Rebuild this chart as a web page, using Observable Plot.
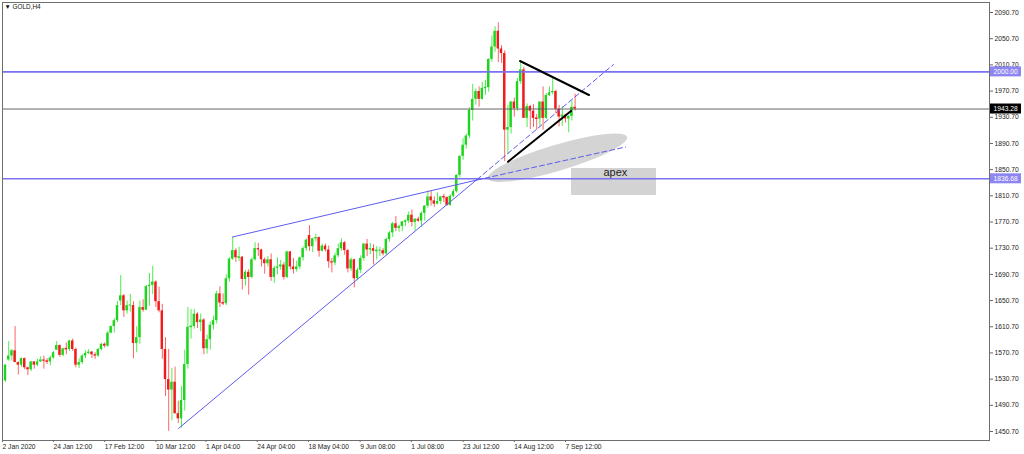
<!DOCTYPE html>
<html><head><meta charset="utf-8">
<script src="https://cdn.jsdelivr.net/npm/d3@7"></script>
<script src="https://cdn.jsdelivr.net/npm/@observablehq/plot@0.6"></script>
<style>
html,body{margin:0;padding:0;background:#fff;}
#chart svg{display:block;}
</style></head><body><div id="chart"></div>
<script>
// ---- Daily OHLC of GOLD (trading day index 0 = 2 Jan 2020) ----
const opens = [1517,1528,1560,1566,1574,1556,1552,1562,1548,1545,1557,1552,1557,1560,1558,1557,1563,1575,1582,1567,
1577,1576,1589,1576,1552,1556,1566,1570,1572,1568,1566,1576,1584,1581,1601,1611,1620,1650,1658,1635,
1643,1643,1585,1594,1640,1636,1672,1674,1679,1649,1635,1576,1530,1514,1526,1478,1470,1498,1553,1610,
1611,1630,1617,1621,1577,1591,1613,1620,1661,1647,1646,1684,1714,1727,1716,1717,1683,1694,1686,1713,
1730,1728,1713,1707,1713,1686,1700,1702,1705,1686,1725,1702,1698,1702,1716,1730,1750,1733,1745,1747,
1726,1734,1728,1710,1708,1719,1730,1739,1727,1699,1713,1684,1697,1715,1737,1728,1730,1726,1727,1727,
1722,1744,1754,1768,1761,1764,1771,1772,1781,1770,1775,1772,1784,1795,1809,1803,1798,1802,1809,1808,
1796,1810,1817,1842,1871,1888,1902,1941,1958,1970,1958,1975,1976,2019,2038,2062,2035,2028,1911,1915,
1954,1944,1985,2003,1929,1947,1940,1929,1928,1954,1929,1964,1968,1970,1943,1931,1934,1928,1932,1946];
const highs = [1529,1553,1588,1576,1611,1557,1563,1563,1549,1558,1557,1561,1565,1566,1562,1566,1573,1588,1583,1578,
1586,1590,1592,1578,1562,1568,1574,1576,1573,1571,1578,1585,1586,1604,1612,1623,1649,1689,1660,1650,
1660,1649,1611,1650,1652,1674,1692,1703,1681,1671,1645,1594,1576,1547,1549,1497,1519,1575,1640,1637,
1637,1632,1630,1623,1598,1618,1627,1665,1672,1661,1690,1716,1747,1730,1732,1718,1697,1698,1716,1739,
1738,1729,1716,1718,1722,1703,1716,1712,1709,1726,1726,1715,1711,1717,1733,1745,1765,1746,1752,1748,
1737,1737,1734,1715,1723,1737,1745,1741,1729,1716,1714,1700,1719,1738,1744,1738,1736,1733,1732,1730,
1746,1756,1770,1779,1766,1771,1774,1786,1789,1776,1778,1786,1796,1818,1818,1809,1815,1810,1813,1809,
1812,1820,1843,1872,1898,1905,1945,1981,1974,1977,1984,1987,2020,2055,2069,2075,2040,2032,1949,1955,
1960,1990,2015,2007,1951,1949,1950,1935,1954,1977,1967,1977,1992,1972,1949,1947,1935,1933,1956,1966];
const lows = [1517,1526,1558,1558,1556,1537,1549,1545,1536,1542,1546,1550,1556,1546,1553,1551,1561,1574,1564,1565,
1568,1573,1573,1548,1547,1553,1562,1568,1562,1561,1564,1574,1578,1579,1600,1601,1617,1643,1625,1630,
1633,1562,1571,1584,1633,1636,1642,1660,1640,1632,1561,1504,1451,1467,1477,1463,1456,1482,1546,1592,
1607,1608,1603,1568,1569,1575,1606,1615,1640,1643,1643,1679,1712,1709,1710,1667,1673,1659,1684,1711,
1718,1702,1691,1702,1680,1677,1690,1697,1682,1684,1697,1691,1694,1698,1711,1726,1726,1724,1740,1717,
1725,1725,1700,1693,1704,1716,1726,1720,1693,1695,1670,1681,1692,1711,1718,1721,1705,1713,1718,1719,
1720,1740,1747,1756,1755,1756,1764,1768,1763,1757,1770,1763,1772,1792,1795,1793,1797,1797,1800,1795,
1795,1808,1815,1838,1865,1882,1898,1925,1949,1946,1957,1964,1969,2015,2030,2014,2013,1863,1874,1905,
1931,1940,1981,1929,1915,1912,1915,1911,1916,1911,1927,1962,1965,1936,1916,1917,1922,1907,1925,1940];
const closes = [1528,1552,1566,1574,1556,1552,1562,1548,1545,1557,1552,1557,1560,1558,1557,1563,1571,1582,1567,1577,
1576,1589,1576,1552,1556,1566,1570,1572,1568,1566,1576,1584,1581,1601,1611,1620,1643,1658,1635,1643,
1643,1585,1594,1640,1636,1672,1674,1679,1649,1635,1576,1530,1514,1526,1478,1470,1498,1553,1610,1611,
1630,1617,1621,1577,1591,1613,1620,1661,1647,1646,1684,1714,1727,1716,1717,1683,1694,1686,1713,1730,
1728,1713,1707,1713,1686,1700,1702,1705,1686,1725,1702,1698,1702,1716,1730,1743,1733,1745,1747,1726,
1734,1728,1710,1708,1719,1730,1739,1727,1699,1713,1684,1697,1715,1737,1728,1730,1726,1727,1727,1722,
1744,1754,1768,1761,1764,1771,1772,1781,1770,1775,1772,1784,1795,1809,1803,1798,1802,1809,1808,1796,
1810,1817,1842,1871,1888,1902,1941,1958,1970,1958,1975,1976,2019,2038,2062,2035,2028,1911,1915,1954,
1944,1985,2003,1929,1947,1940,1929,1928,1954,1929,1964,1968,1970,1943,1931,1934,1928,1932,1946,1943.28];

// ---- Axis ticks ----
const tickBars = [0.56, 16.5, 32.5, 48.5, 64.17, 80.17, 96.17, 112.33, 128.33, 144.5, 160.5, 176.5];
const tickLabels = ["2 Jan 2020","24 Jan 12:00","17 Feb 12:00","10 Mar 12:00","1 Apr 04:00","24 Apr 04:00",
  "18 May 04:00","9 Jun 08:00","1 Jul 08:00","23 Jul 12:00","14 Aug 12:00","7 Sep 12:00"];
const priceTicks = [1450.7,1490.7,1530.7,1570.7,1610.7,1650.7,1690.7,1730.7,1770.7,1810.7,1850.7,1890.7,1930.7,1970.7,2010.7,2050.7,2090.7];

// ---- Objects drawn on the chart (bar index, price) ----
const hLevels = [2000.00, 1836.68];
const bidPrice = 1943.28;
const trendLowerSolid = [[55.56,1455.3],[148.84,1835.6]];
const trendLowerDashed = [[148.84,1835.6],[191.5,2011.3]];
const trendUpperSolid = [[72.44,1747.8],[148.84,1834.9]];
const trendUpperDashed = [[148.84,1834.9],[195.25,1885.3]];
const triUpper = [[162.28,2016.6],[183.84,1964.7]];
const triLower = [[158.53,1862.7],[178.22,1940.3]];
const ellipseEnds = [[152.44,1836.4],[195.88,1899.8]];
const apexBox = {x1:178.38, x2:204.94, y1:1811.2, y2:1852.4};
const apexText = {x:192.1, y:1846.3, text:"apex"};
const symbolTitle = "▼ GOLD,H4";

// ---- build ----
const candles = closes.map((c,i)=>({i, o:opens[i], h:highs[i], l:lows[i], c, up: c >= opens[i]}));
const up = candles.filter(d=>d.up), dn = candles.filter(d=>!d.up);
const bodyLo = d => Math.min(d.o,d.c) - (Math.abs(d.o-d.c) < 1.2 ? 0.7 : 0);
const bodyHi = d => Math.max(d.o,d.c) + (Math.abs(d.o-d.c) < 1.2 ? 0.7 : 0);
const labelOf = new Map(tickBars.map((b,i)=>[b,tickLabels[i]]));
const toPts = arr => arr.map(([x,y])=>({x,y}));
const FONT = "Liberation Sans, Arial, sans-serif";
const ns = "http://www.w3.org/2000/svg";

function findScales(args){ return args.find(a => a && typeof a.x === "function" && typeof a.y === "function"); }

const ellipseMark = (...args) => {
  const s = findScales(args);
  const g = document.createElementNS(ns,"g");
  const x1 = s.x(ellipseEnds[0][0]), y1 = s.y(ellipseEnds[0][1]);
  const x2 = s.x(ellipseEnds[1][0]), y2 = s.y(ellipseEnds[1][1]);
  const cx=(x1+x2)/2, cy=(y1+y2)/2, a=Math.hypot(x2-x1,y2-y1)/2;
  const ang = Math.atan2(y2-y1,x2-x1)*180/Math.PI;
  const e = document.createElementNS(ns,"ellipse");
  e.setAttribute("cx",cx); e.setAttribute("cy",cy);
  e.setAttribute("rx",a); e.setAttribute("ry",a*0.18);
  e.setAttribute("transform",`rotate(${ang} ${cx} ${cy})`);
  e.setAttribute("fill","#d4d4d4");
  g.appendChild(e);
  return g;
};

const priceBoxes = (...args) => {
  const s = findScales(args);
  const g = document.createElementNS(ns,"g");
  const items = [...hLevels.map(v=>({v,bg:"#8d85f0"})), {v:bidPrice,bg:"#000"}];
  for (const it of items) {
    const y = s.y(it.v);
    const r = document.createElementNS(ns,"rect");
    r.setAttribute("x",990); r.setAttribute("y",y-5); r.setAttribute("width",31); r.setAttribute("height",10);
    r.setAttribute("fill",it.bg);
    g.appendChild(r);
    const t = document.createElementNS(ns,"text");
    t.setAttribute("x",993.5); t.setAttribute("y",y+2.4);
    t.setAttribute("text-anchor","start");
    t.setAttribute("fill","#fff"); t.setAttribute("font-size","6.7px"); t.setAttribute("font-family",FONT);
    t.textContent = d3.format(".2f")(it.v);
    g.appendChild(t);
  }
  return g;
};

const plot = Plot.plot({
  width: 1024, height: 454,
  marginLeft: 2, marginRight: 35, marginTop: 2, marginBottom: 14,
  style: {fontFamily: FONT, fontSize: "6.7px", background: "#fff", color: "#222"},
  x: {type: "linear", domain: [0.5625, 309.0], axis: null},
  y: {type: "linear", domain: [1436.97, 2105.98], axis: null},
  marks: [
    ellipseMark,
    Plot.rect([apexBox], {x1:"x1", x2:"x2", y1:"y1", y2:"y2", fill:"#d3d3d3"}),
    Plot.text([apexText], {x:"x", y:"y", text:"text", fontSize: 11, fill:"#222", textAnchor:"middle"}),
    Plot.ruleX(up, {x: d=>d.i+0.5, y1:"l", y2:"h", stroke:"#4cf04c", strokeWidth:1, clip:true}),
    Plot.ruleX(dn, {x: d=>d.i+0.5, y1:"l", y2:"h", stroke:"#ff6464", strokeWidth:1, clip:true}),
    Plot.rect(up, {x1: d=>d.i+0.12, x2: d=>d.i+0.88, y1: bodyLo, y2: bodyHi, fill:"#1ed41e", clip:true}),
    Plot.rect(dn, {x1: d=>d.i+0.12, x2: d=>d.i+0.88, y1: bodyLo, y2: bodyHi, fill:"#f01c1c", clip:true}),
    Plot.ruleY(hLevels, {y: d=>d, stroke:"#7a70f0", strokeWidth:1.6}),
    Plot.ruleY([bidPrice], {y: d=>d, stroke:"#555", strokeWidth:0.9}),
    Plot.line(toPts(trendLowerSolid), {x:"x", y:"y", stroke:"#5c5cf0", strokeWidth:1}),
    Plot.line(toPts(trendUpperSolid), {x:"x", y:"y", stroke:"#5c5cf0", strokeWidth:1}),
    Plot.line(toPts(trendLowerDashed), {x:"x", y:"y", stroke:"#5c5cf0", strokeWidth:1, strokeDasharray:"5,3"}),
    Plot.line(toPts(trendUpperDashed), {x:"x", y:"y", stroke:"#5c5cf0", strokeWidth:1, strokeDasharray:"5,3"}),
    Plot.line(toPts(triUpper), {x:"x", y:"y", stroke:"#000", strokeWidth:2}),
    Plot.line(toPts(triLower), {x:"x", y:"y", stroke:"#000", strokeWidth:2}),
    Plot.axisY({anchor:"right", ticks: priceTicks, tickFormat: d3.format(".2f"), tickSize: 3, tickPadding: 2, label: null, fontSize: 6.7, stroke:"#666", fill:"#222"}),
    Plot.axisX({anchor:"bottom", ticks: tickBars, tickFormat: d => labelOf.get(d), tickSize: 2, tickPadding: 2, textAnchor:"start", label: null, fontSize: 6.7, stroke:"#666", fill:"#222"}),
    Plot.frame({stroke:"#6e6e6e"}),
    priceBoxes,
    Plot.text([symbolTitle], {frameAnchor:"top-left", dx: 2, dy: 2, text: d=>d, fontSize: 6.4, fill:"#111", lineAnchor:"top"})
  ]
});
document.getElementById("chart").appendChild(plot);
</script>
</body></html>
